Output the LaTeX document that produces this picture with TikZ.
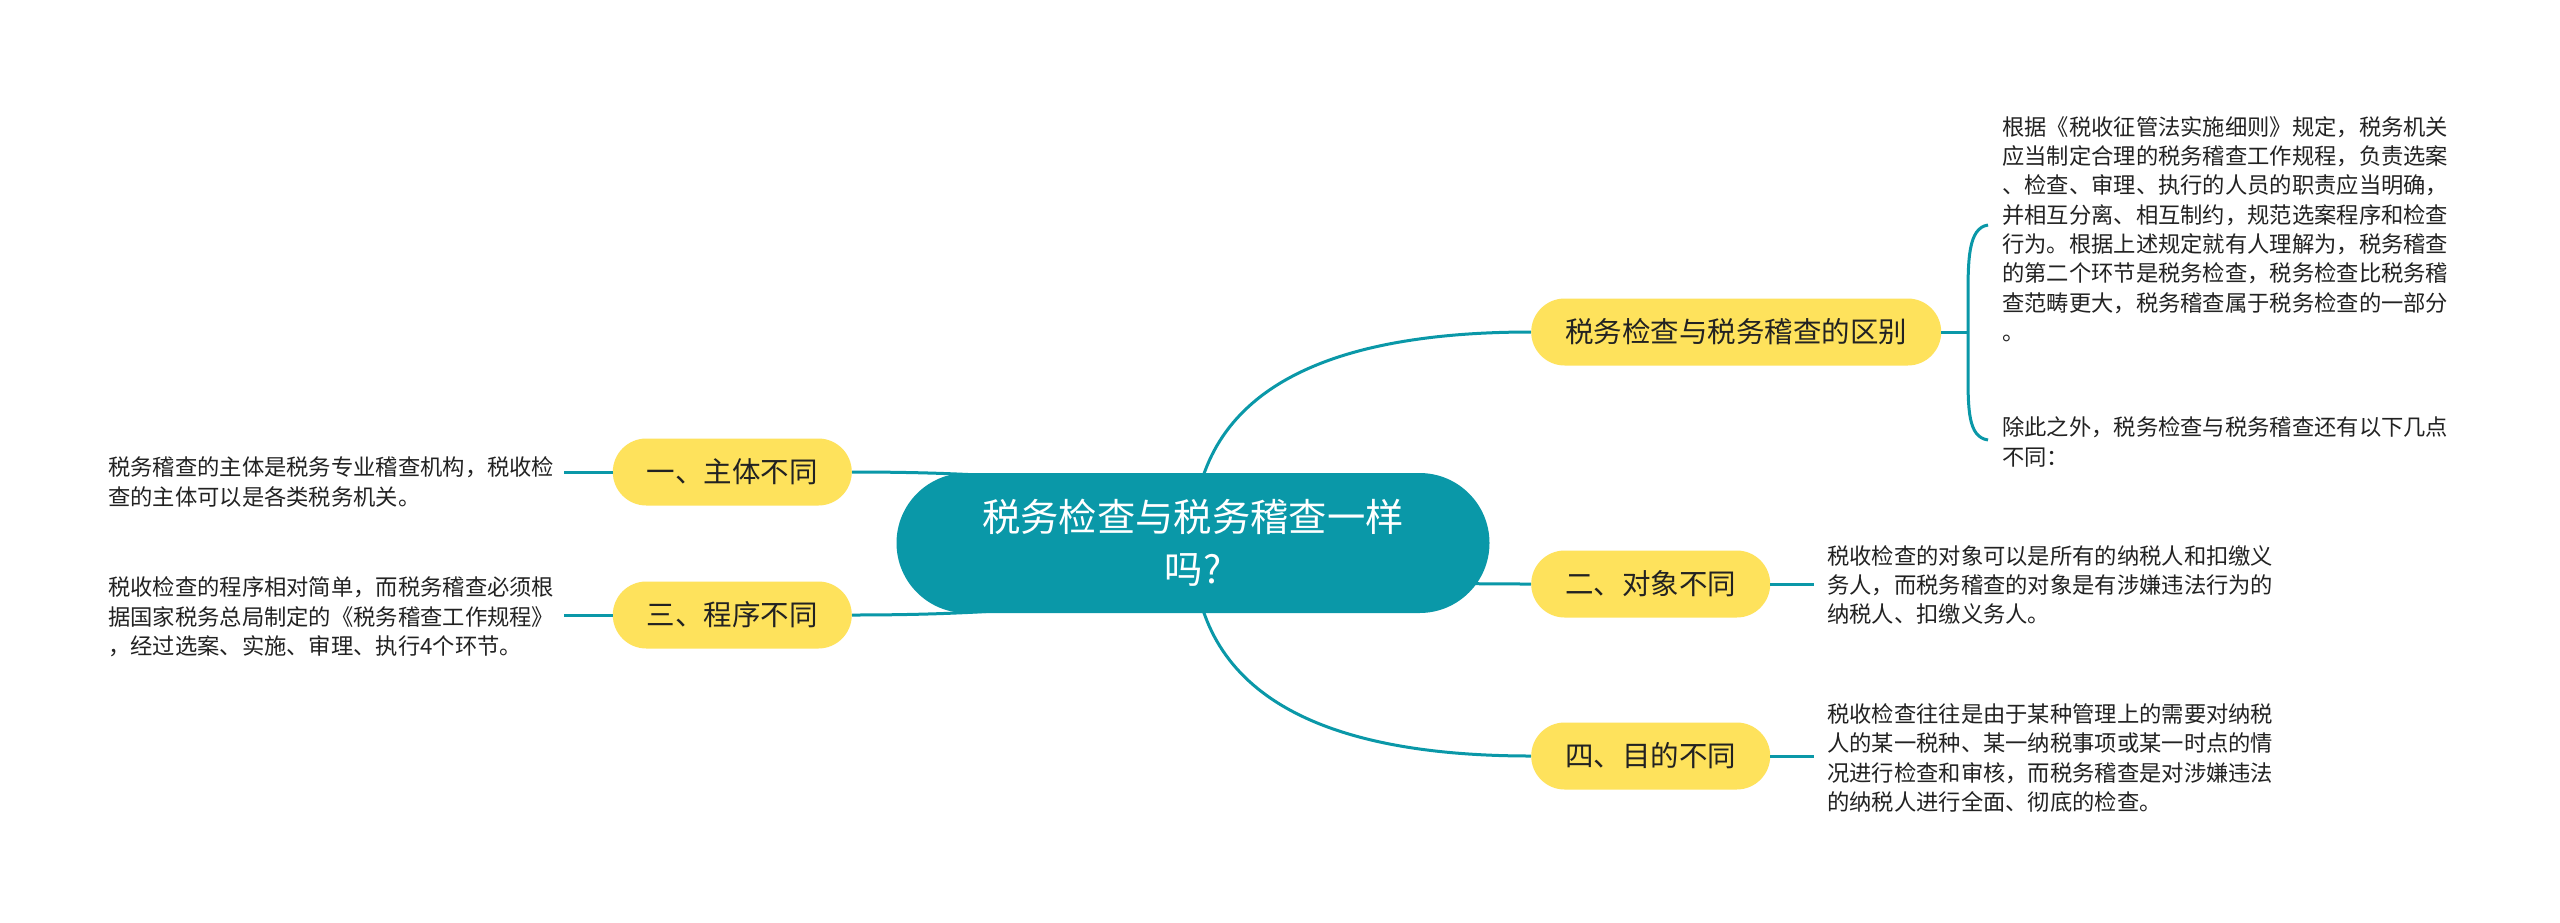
\documentclass[tikz,border=0pt]{standalone}
\usepackage{fontspec}
\setmainfont{Noto Sans CJK SC}
\usepackage{tikz}
\usetikzlibrary{calc,backgrounds}

\definecolor{mmteal}{RGB}{10,152,168}
\definecolor{mmyellow}{RGB}{254,226,92}
\definecolor{mmtext}{RGB}{34,34,34}

\begin{document}
\begin{tikzpicture}[x=1pt,y=-1pt,
  link/.style={line width=3pt,draw=mmteal},
  mmcurve/.style={to path={.. controls ($(\tikztostart)!2/3!(\tikztostart |- \tikztotarget)$) and ($(\tikztotarget)!2/3!(\tikztostart |- \tikztotarget)$) .. (\tikztotarget)}},
  rootbox/.style={fill=mmteal,text=white,rounded corners=70pt,minimum width=593pt,minimum height=140pt,
    inner sep=0pt,align=center,font=\fontsize{38.3}{52}\selectfont},
  topicbox/.style={fill=mmyellow,text=mmtext,rounded corners=33.5pt,minimum height=67pt,inner xsep=34pt,
    inner ysep=0pt,font=\fontsize{28.5}{34}\selectfont},
  notetext/.style={text=mmtext,inner sep=0pt,align=left,font=\fontsize{22.3}{29.3}\selectfont}]
\useasboundingbox (0,0) rectangle (2560,922);

\node[rootbox] (root) at (1193,543) {税务检查与税务稽查一样\\吗?};

\node[topicbox,anchor=west] (qubie) at (1531,332) {税务检查与税务稽查的区别};
\node[topicbox,anchor=east] (zhuti) at (852,472) {一、主体不同};
\node[topicbox,anchor=west] (duixiang) at (1531,584) {二、对象不同};
\node[topicbox,anchor=east] (chengxu) at (852,615) {三、程序不同};
\node[topicbox,anchor=west] (mudi) at (1531,756) {四、目的不同};

\node[notetext,anchor=west] (qubie_a) at (2002,229) {根据《税收征管法实施细则》规定，税务机关\\
应当制定合理的税务稽查工作规程，负责选案\\
、检查、审理、执行的人员的职责应当明确，\\
并相互分离、相互制约，规范选案程序和检查\\
行为。根据上述规定就有人理解为，税务稽查\\
的第二个环节是税务检查，税务检查比税务稽\\
查范畴更大，税务稽查属于税务检查的一部分\\
。};
\node[notetext,anchor=west] (qubie_b) at (2002,442) {除此之外，税务检查与税务稽查还有以下几点\\
不同：};
\node[notetext,anchor=west] (zhuti_t) at (108,482) {税务稽查的主体是税务专业稽查机构，税收检\\
查的主体可以是各类税务机关。};
\node[notetext,anchor=west] (chengxu_t) at (108,617) {税收检查的程序相对简单，而税务稽查必须根\\
据国家税务总局制定的《税务稽查工作规程》\\
，经过选案、实施、审理、执行4个环节。};
\node[notetext,anchor=west] (duixiang_t) at (1827,585) {税收检查的对象可以是所有的纳税人和扣缴义\\
务人，而税务稽查的对象是有涉嫌违法行为的\\
纳税人、扣缴义务人。};
\node[notetext,anchor=west] (mudi_t) at (1827,758) {税收检查往往是由于某种管理上的需要对纳税\\
人的某一税种、某一纳税事项或某一时点的情\\
况进行检查和审核，而税务稽查是对涉嫌违法\\
的纳税人进行全面、彻底的检查。};

\coordinate (bracetip) at (1968,332);

\begin{pgfonlayer}{background}
\fill[white] (0,0) rectangle (2560,922);
% branches from the root
\draw[link] (root.center) to[mmcurve] (qubie.west);
\draw[link] (root.center) to[mmcurve] (duixiang.west);
\draw[link] (root.center) to[mmcurve] (mudi.west);
\draw[link] (root.center) to[mmcurve] (zhuti.east);
\draw[link] (root.center) to[mmcurve] (chengxu.east);
\end{pgfonlayer}

% stubs to the notes
\draw[link,shorten >=10pt] (zhuti.west) -- (zhuti_t.east |- zhuti.west);
\draw[link,shorten >=10pt] (chengxu.west) -- (chengxu_t.east |- chengxu.west);
\draw[link,shorten >=13pt] (duixiang.east) -- (duixiang_t.west |- duixiang.east);
\draw[link,shorten >=13pt] (mudi.east) -- (mudi_t.west |- mudi.east);
\draw[link] (qubie.east) -- (bracetip);
\draw[link] (1988,225) .. controls (1968,228) and (1968,260) .. (1968,300) -- (1968,370)
  .. controls (1968,410) and (1968,437) .. (1988,440);
\end{tikzpicture}
\end{document}
